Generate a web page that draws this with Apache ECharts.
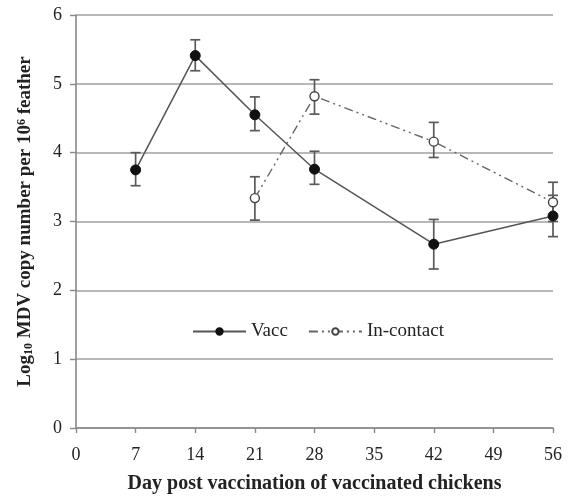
<!DOCTYPE html>
<html>
<head>
<meta charset="utf-8">
<script src="https://cdn.jsdelivr.net/npm/echarts@6/dist/echarts.min.js"></script>
<style>
  html, body { margin: 0; padding: 0; background: #fff; }
  #chart { width: 575px; height: 499px; }
</style>
</head>
<body>
<div id="chart"></div>
<script>
// Sampling days and mean log10 copy numbers with error-bar bounds
const vaccDays = [7, 14, 21, 28, 42, 56];
const vaccMean = [3.75, 5.41, 4.55, 3.76, 2.67, 3.08];
const vaccLow  = [3.52, 5.19, 4.32, 3.54, 2.31, 2.78];
const vaccHigh = [4.00, 5.64, 4.81, 4.02, 3.03, 3.38];

const contactDays = [21, 28, 42, 56];
const contactMean = [3.34, 4.82, 4.16, 3.28];
const contactLow  = [3.02, 4.56, 3.93, 3.00];
const contactHigh = [3.65, 5.06, 4.44, 3.57];

const xTicks = [0, 7, 14, 21, 28, 35, 42, 49, 56];
const yTicks = [0, 1, 2, 3, 4, 5, 6];

const FONT = '"Liberation Serif", "DejaVu Serif", serif';

function pairs(xs, ys) { return xs.map((x, i) => [x, ys[i]]); }
function bars(xs, lo, hi) { return xs.map((x, i) => [x, lo[i], hi[i]]); }

function renderErrorBar(params, api) {
  const x = api.value(0);
  const lo = api.coord([x, api.value(1)]);
  const hi = api.coord([x, api.value(2)]);
  const cap = 5;
  const style = { stroke: '#5a5a5a', lineWidth: 1.7 };
  return {
    type: 'group',
    children: [
      { type: 'line', shape: { x1: lo[0], y1: lo[1], x2: hi[0], y2: hi[1] }, style },
      { type: 'line', shape: { x1: lo[0] - cap, y1: lo[1], x2: lo[0] + cap, y2: lo[1] }, style },
      { type: 'line', shape: { x1: hi[0] - cap, y1: hi[1], x2: hi[0] + cap, y2: hi[1] }, style }
    ]
  };
}

const chart = echarts.init(document.getElementById('chart'), null, { renderer: 'canvas' });

chart.setOption({
  animation: false,
  backgroundColor: '#fff',
  textStyle: { fontFamily: FONT },
  grid: { left: 76, right: 22, top: 15, bottom: 71 },
  legend: {
    data: ['Vacc', 'In-contact'],
    left: 187,
    top: 317,
    itemWidth: 53,
    itemHeight: 8,
    itemGap: 20,
    textStyle: { fontFamily: FONT, fontSize: 19, color: '#222' }
  },
  xAxis: {
    type: 'value',
    min: xTicks[0],
    max: xTicks[xTicks.length - 1],
    interval: 7,
    name: 'Day post vaccination of vaccinated chickens',
    nameLocation: 'middle',
    nameGap: 46,
    nameTextStyle: { fontFamily: FONT, fontSize: 20, fontWeight: 'bold', color: '#222' },
    axisLine: { show: true, lineStyle: { color: '#888', width: 1.6 } },
    axisTick: { show: true, inside: false, length: 5, lineStyle: { color: '#888', width: 1.4 } },
    axisLabel: { fontFamily: FONT, fontSize: 18, color: '#222', margin: 18 },
    splitLine: { show: false }
  },
  yAxis: {
    type: 'value',
    min: yTicks[0],
    max: yTicks[yTicks.length - 1],
    interval: 1,
    name: '{b|Log}{sub|10}{b| MDV copy number per 10}{sup|6}{b| feather}',
    nameLocation: 'middle',
    nameGap: 41,
    nameTextStyle: {
      fontFamily: FONT, fontSize: 19, fontWeight: 'bold', color: '#222',
      rich: {
        b: { fontFamily: FONT, fontSize: 19, fontWeight: 'bold', color: '#222' },
        sub: { fontFamily: FONT, fontSize: 12, fontWeight: 'bold', color: '#222', verticalAlign: 'bottom', padding: [7, 0, 0, 0] },
        sup: { fontFamily: FONT, fontSize: 12, fontWeight: 'bold', color: '#222', verticalAlign: 'top', padding: [0, 0, 7, 0] }
      }
    },
    axisLine: { show: true, lineStyle: { color: '#888', width: 1.6 } },
    axisTick: { show: true, inside: false, length: 6, lineStyle: { color: '#888', width: 1.4 } },
    axisLabel: { fontFamily: FONT, fontSize: 18, color: '#222', margin: 14 },
    splitLine: { show: true, lineStyle: { color: '#a0a0a0', width: 1.5 } }
  },
  series: [
    {
      name: 'Vacc error',
      type: 'custom',
      renderItem: renderErrorBar,
      data: bars(vaccDays, vaccLow, vaccHigh),
      encode: { x: 0, y: [1, 2] },
      z: 2,
      silent: true
    },
    {
      name: 'In-contact error',
      type: 'custom',
      renderItem: renderErrorBar,
      data: bars(contactDays, contactLow, contactHigh),
      encode: { x: 0, y: [1, 2] },
      z: 2,
      silent: true
    },
    {
      name: 'Vacc',
      type: 'line',
      data: pairs(vaccDays, vaccMean),
      symbol: 'circle',
      symbolSize: 10,
      itemStyle: { color: '#111', borderColor: '#111', borderWidth: 1 },
      lineStyle: { color: '#555', width: 1.5, type: 'solid' },
      z: 4
    },
    {
      name: 'In-contact',
      type: 'line',
      data: pairs(contactDays, contactMean),
      symbol: 'circle',
      symbolSize: 9,
      itemStyle: { color: '#fff', borderColor: '#444', borderWidth: 1.4 },
      lineStyle: { color: '#666', width: 1.4, type: [9, 4, 2, 4, 2, 4] },
      z: 5
    }
  ]
});
</script>
</body>
</html>
